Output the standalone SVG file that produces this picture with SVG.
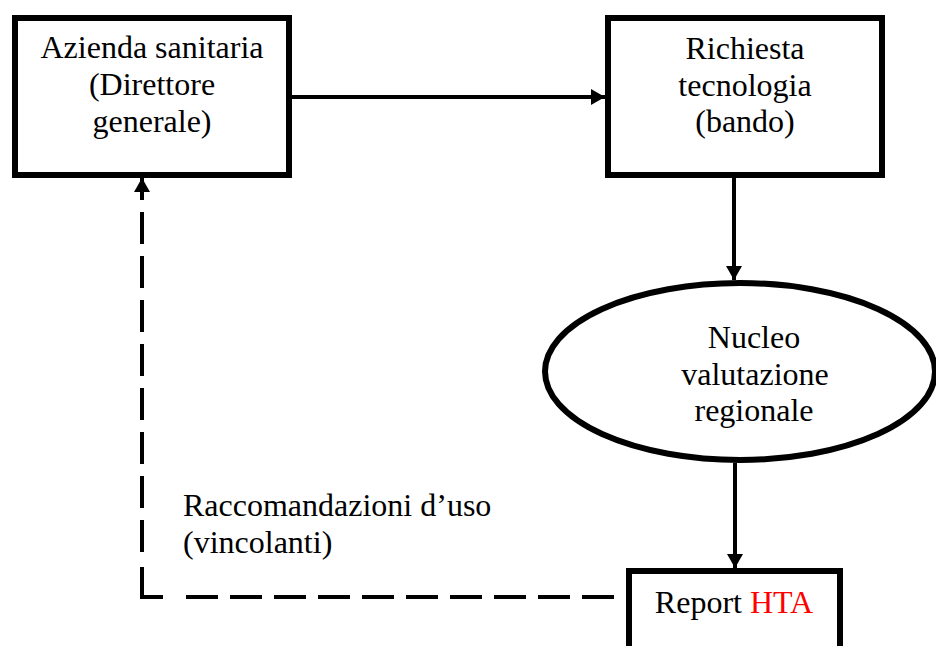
<svg xmlns="http://www.w3.org/2000/svg" width="936" height="646" viewBox="0 0 936 646">
  <style>
    .box { fill: #ffffff; stroke: #000000; stroke-width: 6; }
    .lbl { font-family: "Liberation Serif", "Times New Roman", serif; font-size: 32px; fill: #000000; }
    .mid { text-anchor: middle; }
    .conn { fill: none; stroke: #000000; stroke-width: 4; }
    .dash { stroke-dasharray: 32 12; }
  </style>
  <defs>
    <marker id="arrow" viewBox="0 0 14 16" refX="14" refY="8" markerWidth="14" markerHeight="16" markerUnits="userSpaceOnUse" orient="auto">
      <path d="M0,0 L14,8 L0,16 z" fill="#000000"/>
    </marker>
  </defs>
  <rect width="936" height="646" fill="#ffffff"/>

  <g id="node-azienda">
    <rect class="box" x="15" y="18" width="274" height="157"/>
    <text class="lbl mid" x="152" y="58">Azienda sanitaria</text>
    <text class="lbl mid" x="152" y="95">(Direttore</text>
    <text class="lbl mid" x="152" y="132">generale)</text>
  </g>

  <g id="node-richiesta">
    <rect class="box" x="608" y="18" width="274" height="157"/>
    <text class="lbl mid" x="745" y="59">Richiesta</text>
    <text class="lbl mid" x="745" y="96">tecnologia</text>
    <text class="lbl mid" x="745" y="132">(bando)</text>
  </g>

  <g id="node-nucleo">
    <ellipse class="box" cx="740" cy="371.5" rx="195" ry="88.5"/>
    <text class="lbl mid" x="754" y="348">Nucleo</text>
    <text class="lbl mid" x="755" y="385">valutazione</text>
    <text class="lbl mid" x="754" y="421">regionale</text>
  </g>

  <g id="node-report">
    <rect class="box" x="629" y="571" width="211" height="100"/>
    <text class="lbl mid" x="734" y="613">Report <tspan fill="#ff0000">HTA</tspan></text>
  </g>

  <g id="connectors">
    <path class="conn" d="M292 97 H605" marker-end="url(#arrow)"/>
    <path class="conn" d="M734 178 V280" marker-end="url(#arrow)"/>
    <path class="conn" d="M735 463 V568" marker-end="url(#arrow)"/>
    <path class="conn dash" d="M186 597 H615"/>
    <path class="conn" d="M163 597 H142 V567"/>
    <path class="conn dash" d="M142 552 V178" marker-end="url(#arrow)"/>
    <text class="lbl" x="183" y="516">Raccomandazioni d’uso</text>
    <text class="lbl" x="183" y="553">(vincolanti)</text>
  </g>
</svg>
